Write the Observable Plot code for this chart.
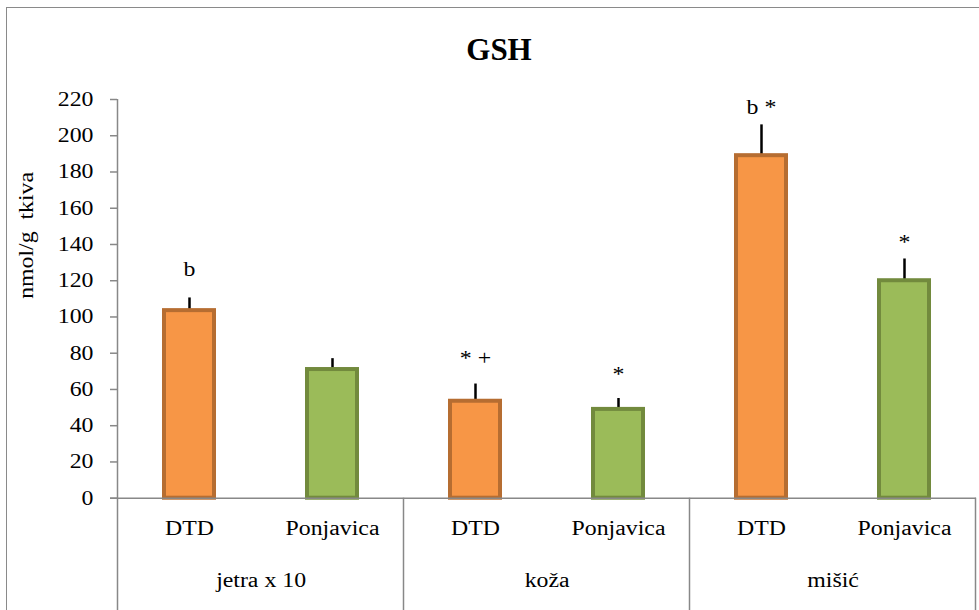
<!DOCTYPE html>
<html><head><meta charset="utf-8">
<script src="https://cdn.jsdelivr.net/npm/d3@7"></script>
<script src="https://cdn.jsdelivr.net/npm/@observablehq/plot@0.6"></script>
<style>
body{margin:0;background:#fff;}
#wrap{position:relative;width:979px;height:610px;overflow:hidden;background:#fff;}
#border{position:absolute;left:6px;top:7px;width:1000px;height:1000px;border:1.5px solid #8a8a8a;box-sizing:border-box;}
#title{position:absolute;left:0;width:998px;top:34px;text-align:center;font:bold 31px "Liberation Serif";line-height:31px;color:#000;}
#chart{position:absolute;left:0;top:0;}
#chart svg, #chart svg text{font-family:"Liberation Serif", "Times New Roman", serif !important;font-size:20px;}
#chart svg text{fill:#000;}
</style></head><body>
<div id="wrap"><div id="border"></div><div id="chart"></div><div id="title">GSH</div></div>
<script>
const groups = ["jetra x 10", "koža", "mišić"];
const series = ["DTD", "Ponjavica"];
const means = [[103.5, 71], [53.5, 49], [189, 120]];
const errors = [[7, 6], [9.5, 6], [17, 12]];
const notes = [["b", ""], ["* +", "*"], ["b *", "*"]];
const noteY = [[126, 0], [77, 68], [215.6, 140.8]];
const yTicks = [0, 20, 40, 60, 80, 100, 120, 140, 160, 180, 200, 220];
const yLabel = "nmol/g  tkiva";
const fills = ["#F79646", "#9BBB59"];
const strokes = ["#B66D31", "#728A3D"];

const keys = [];
const rows = [];
groups.forEach((g, gi) => series.forEach((s, si) => {
  const key = g + "|" + s;
  keys.push(key);
  rows.push({key, group: g, series: s, mean: means[gi][si], top: means[gi][si] + errors[gi][si],
    note: notes[gi][si], noteY: noteY[gi][si], fill: fills[si], stroke: strokes[si]});
}));
const groupRows = groups.map(g => ({group: g, first: g + "|" + series[0]}));

const W = 979, H = 610;
const mL = 117, mR = 3, mT = 99, mB = 112.3;
const step = (W - mL - mR) / keys.length;

const plot = Plot.plot({
  width: W, height: H,
  marginLeft: mL, marginRight: mR, marginTop: mT, marginBottom: mB,
  style: {fontFamily: "'Liberation Serif', serif", fontSize: "20px", color: "black", background: "transparent", overflow: "visible"},
  x: {domain: keys, paddingInner: 0.65, paddingOuter: 0.325, axis: null},
  y: {domain: [0, 220], axis: null},
  color: {type: "identity"},
  marks: [
    Plot.axisY({ticks: yTicks, tickSize: 7, tickPadding: 17, stroke: "#888", strokeWidth: 1.5, label: null}),
    Plot.axisX({tickSize: 0, tickPadding: 23, tickFormat: k => k.split("|")[1], label: null}),
    Plot.ruleX(rows, {x: "key", y1: "mean", y2: "top", stroke: "black", strokeWidth: 2.5}),
    Plot.ruleY(rows, {x: "key", y: "top", stroke: "black", strokeWidth: 2.5, insetLeft: 19, insetRight: 19}),
    Plot.barY(rows, {x: "key", y: "mean", fill: "fill", stroke: "stroke", strokeWidth: 4}),
    Plot.ruleY([0], {stroke: "#888", strokeWidth: 1.5, insetLeft: -7}),
    Plot.text(rows.filter(d => d.note), {x: "key", y: "noteY", text: "note", fontSize: 20}),
    Plot.text(groupRows, {x: "first", frameAnchor: "bottom", dx: step / 2, dy: 89, text: "group", fontSize: 20}),
    Plot.text([yLabel], {frameAnchor: "left", dx: -91, rotate: -90, fontSize: 20})
  ]
});
document.getElementById("chart").appendChild(plot);

// category separators and y-axis line, positioned from Plot's scales
const xs = plot.scale("x"), ys = plot.scale("y");
const gap = (xs.step - xs.bandwidth) / 2;
const y0 = ys.apply(0), yTop = ys.apply(220);
const bounds = groups.map(g => xs.apply(g + "|" + series[0]) - gap);
bounds.push(xs.apply(keys[keys.length - 1]) + xs.bandwidth + gap);
const svg = d3.select(plot);
bounds.forEach((bx, i) => {
  svg.append("line").attr("x1", bx).attr("x2", bx)
    .attr("y1", i === 0 ? yTop : y0).attr("y2", H)
    .attr("stroke", "#888").attr("stroke-width", 1.5);
});

// Reference text is horizontally stretched; widen glyphs accordingly
plot.querySelectorAll("text").forEach(t => {
  const len = t.getComputedTextLength();
  if (len > 0) {
    t.setAttribute("textLength", (len * 1.19).toFixed(1));
    t.setAttribute("lengthAdjust", "spacingAndGlyphs");
  }
});
</script>
</body></html>
